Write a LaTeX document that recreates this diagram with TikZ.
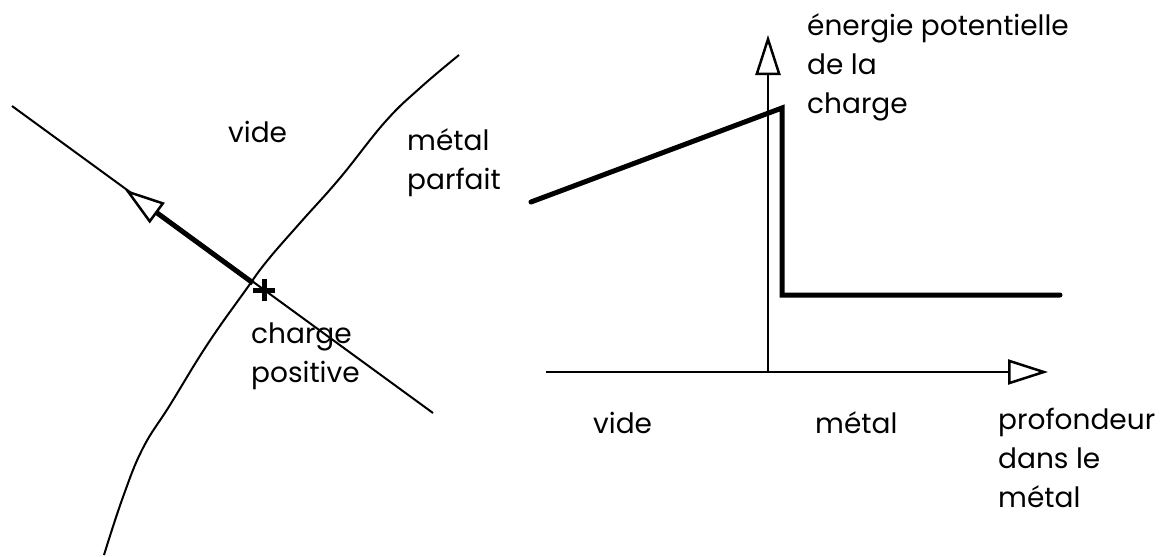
\documentclass[tikz,border=0pt]{standalone}
\usepackage{fontspec}
\setmainfont{Poppins}
\usetikzlibrary{arrows.meta}
\begin{document}
\begin{tikzpicture}[x=1pt,y=-1pt,
  thin line/.style={line width=2pt},
  thick line/.style={line width=5pt},
  opentip/.style={-{Triangle[open,length=40pt,width=25pt,line width=2.5pt,fill=white]}},
  lbl/.style={anchor=base west,inner sep=0pt,align=left,font=\fontsize{28}{39}\selectfont}]
\useasboundingbox (0,0) rectangle (1168,557);
% ---------- left diagram ----------
\coordinate (la) at (12,106);
\coordinate (lb) at (433,413);
\coordinate (q) at (253,283);
\coordinate (tip) at (125,189.5);
\coordinate (pc) at (264,290);
\draw[thin line] (la) -- (lb);
\draw[thin line] plot[smooth,tension=0.7] coordinates {(459,55) (420,88) (385,122) (340,178) (300,223) (267,261) (245,291) (207,345) (170,405) (143,448) (123,497) (104,555)};
\draw[thick line,opentip] (q) -- (tip);
\draw[line width=5pt] ([xshift=-11pt]pc) -- ([xshift=11pt]pc);
\draw[line width=5pt] ([yshift=-11pt]pc) -- ([yshift=11pt]pc);
\node[lbl] (vide1) at (228,142) {vide};
\node[lbl] (metal1) at (407,189) {métal\\parfait};
\node[lbl] (charge) at (251,382) {charge\\positive};
% ---------- right diagram ----------
\coordinate (o) at (768,372);
\coordinate (xs) at (546,372);
\coordinate (xe) at (1048,372);
\coordinate (ye) at (768,35);
\draw[thin line,opentip] (xs) -- (xe);
\draw[thin line,opentip] (o) -- (ye);
\coordinate (p1) at (531,202);
\coordinate (p2) at (782,108);
\coordinate (p3) at (782,295);
\coordinate (p4) at (1060,295);
\draw[thick line,line cap=round,line join=miter] (p1) -- (p2) -- (p3) -- (p4);
\node[lbl] (energie) at (807,113) {énergie potentielle\\de la\\charge};
\node[lbl] (vide2) at (593,433) {vide};
\node[lbl] (metal2) at (815,433) {métal};
\node[lbl] (prof) at (998,507) {profondeur\\dans le\\métal};
\end{tikzpicture}
\end{document}
